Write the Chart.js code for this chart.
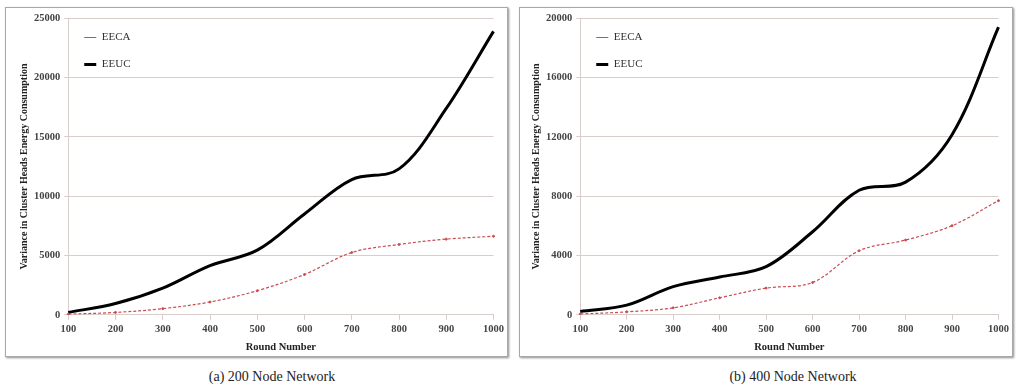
<!DOCTYPE html>
<html>
<head>
<meta charset="utf-8">
<script src="https://cdn.jsdelivr.net/npm/chart.js@4"></script>
<style>
    body { margin: 0; background: #fff; width: 1016px; height: 389px; position: relative; overflow: hidden; }
    .frame { position: absolute; top: 7px; height: 348px; border: 1px solid #a8a8a8; box-shadow: 1px 1px 2px rgba(0,0,0,0.45); background: #fff; }
    #frameA { left: 5px; width: 501px; }
    #frameB { left: 519px; width: 492px; }
    .caption { position: absolute; top: 369px; font-family: "Liberation Serif", serif; font-size: 14px; color: #222; transform: translateX(-50%); white-space: nowrap; }
</style>
</head>
<body>
<div class="frame" id="frameA"><canvas id="chartA" width="501" height="348"></canvas></div>
<div class="frame" id="frameB"><canvas id="chartB" width="492" height="348"></canvas></div>
<div class="caption" style="left:272px">(a) 200 Node Network</div>
<div class="caption" style="left:793px">(b) 400 Node Network</div>

<script>
// Round numbers on the x axis
const rounds = ['100', '200', '300', '400', '500', '600', '700', '800', '900', '1000'];

// (a) 200 node network
const eecaA = [50, 200, 520, 1080, 2030, 3400, 5250, 5930, 6380, 6620];
const eeucA = [200, 950, 2250, 4150, 5450, 8500, 11400, 12300, 17400, 23900];
const yTicksA = { max: 25000, step: 5000 };

// (b) 400 node network
const eecaB = [50, 200, 470, 1150, 1800, 2180, 4320, 5040, 6010, 7700];
const eeucB = [220, 650, 1900, 2550, 3250, 5600, 8400, 8950, 12150, 19400];
const yTicksB = { max: 20000, step: 4000 };

const gridColor = '#d9cdcb';
const tickFont = { family: '"Liberation Serif", serif', size: 10.5, weight: 'bold' };
const titleFont = { family: '"Liberation Serif", serif', size: 10.5, weight: 'bold' };

function makeChart(id, eeca, eeuc, yTicks, pad) {
    const ctx = document.getElementById(id).getContext('2d');
    return new Chart(ctx, {
        type: 'line',
        data: {
            labels: rounds,
            datasets: [
                {
                    label: 'EECA',
                    data: eeca,
                    borderColor: '#cc4a50',
                    backgroundColor: '#cc4a50',
                    borderWidth: 1.2,
                    borderDash: [3, 2],
                    pointRadius: 1,
                    pointBorderColor: '#cc4a50',
                    pointBorderWidth: 1,
                    tension: 0.35
                },
                {
                    label: 'EEUC',
                    data: eeuc,
                    borderColor: '#000',
                    backgroundColor: '#000',
                    borderWidth: 3,
                    pointRadius: 0,
                    pointBorderColor: '#000',
                    pointBorderWidth: 3,
                    tension: 0.35
                }
            ]
        },
        options: {
            responsive: false,
            animation: false,
            layout: { padding: pad },
            plugins: {
                legend: {
                    position: 'chartArea',
                    align: 'start',
                    title: { display: true, text: ' ', font: { size: 5 }, padding: 1 },
                    labels: {
                        usePointStyle: true,
                        pointStyle: 'line',
                        pointStyleWidth: 12,
                        padding: 16,
                        color: '#333',
                        font: { family: '"Liberation Serif", serif', size: 11 }
                    }
                },
                tooltip: { enabled: false }
            },
            scales: {
                x: {
                    offset: false,
                    grid: { drawOnChartArea: false, color: gridColor, tickLength: 5 },
                    border: { color: gridColor },
                    ticks: { font: tickFont, color: '#444', padding: 3, maxRotation: 0, autoSkip: false },
                    title: { display: true, text: 'Round Number', font: titleFont, color: '#222', padding: { top: 3, bottom: 0 } }
                },
                y: {
                    min: 0,
                    max: yTicks.max,
                    grid: { color: gridColor, tickLength: 4 },
                    border: { color: gridColor },
                    ticks: { stepSize: yTicks.step, font: tickFont, color: '#444', padding: 4, format: { useGrouping: false } },
                    title: { display: true, text: 'Variance in Cluster Heads Energy Consumption', font: { ...titleFont, size: 10 }, color: '#222', padding: { top: 0, bottom: 0 } }
                }
            }
        }
    });
}

makeChart('chartA', eecaA, eeucA, yTicksA, { left: 12, right: 12, top: 6, bottom: 2 });
makeChart('chartB', eecaB, eeucB, yTicksB, { left: 10, right: 0, top: 6, bottom: 2 });
</script>
</body>
</html>
